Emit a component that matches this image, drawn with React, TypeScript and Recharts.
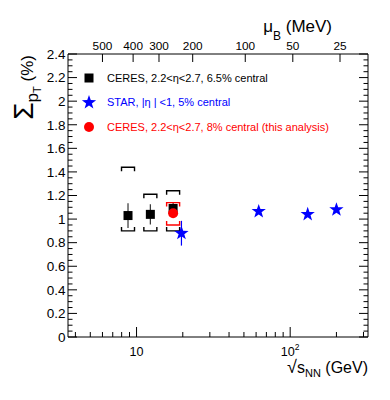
import { ComposedChart, Scatter, XAxis, YAxis, ErrorBar } from 'recharts';

const FONT = "'Liberation Sans', Arial, Helvetica, sans-serif";

// CERES, 2.2<eta<2.7, 6.5% central (black squares)
const ceresSqrtS = [8.8, 12.3, 17.3];
const ceresSigma = [1.03, 1.04, 1.09];
const ceresStat = [0.105, 0.085, 0.05];
const ceresSysHigh = [1.44, 1.21, 1.24];
const ceresSysLow = [0.9, 0.9, 0.9];

// STAR, |eta|<1, 5% central (blue stars)
const starSqrtS = [19.6, 62.4, 130, 200];
const starSigma = [0.88, 1.065, 1.04, 1.08];
const starStat = [0.105, 0.01, 0.01, 0.01];

// CERES, 8% central (this analysis, red circle)
const thisSqrtS = [17.3];
const thisSigma = [1.05];
const thisStat = [0.02];
const thisSysHigh = [1.14];
const thisSysLow = [0.95];

// axis ticks
const yMajorTicks = [0, 0.2, 0.4, 0.6, 0.8, 1, 1.2, 1.4, 1.6, 1.8, 2, 2.2, 2.4];
const xTicks = [4, 5, 6, 7, 8, 9, 10, 20, 30, 40, 50, 60, 70, 80, 90, 100, 200, 300];
const xLabels = [10, 100];
const muBLabels = [500, 400, 300, 200, 100, 50, 25];
const muBSqrtS = [6.0, 9.5, 14.0, 23.2, 51, 104, 211];

const yTicks: number[] = [];
yMajorTicks.forEach((v, i) => {
  yTicks.push(v);
  if (i < yMajorTicks.length - 1) {
    yTicks.push(v + 0.05, v + 0.1, v + 0.15);
  }
});

const ceresData = ceresSqrtS.map((x, i) => ({ x, y: ceresSigma[i], err: ceresStat[i] }));
const ceresUp = ceresSqrtS.map((x, i) => ({ x, y: ceresSysHigh[i] }));
const ceresLow = ceresSqrtS.map((x, i) => ({ x, y: ceresSysLow[i] }));
const starData = starSqrtS.map((x, i) => ({ x, y: starSigma[i], err: starStat[i] }));
const thisData = thisSqrtS.map((x, i) => ({ x, y: thisSigma[i], err: thisStat[i] }));
const thisUp = thisSqrtS.map((x, i) => ({ x, y: thisSysHigh[i] }));
const thisLow = thisSqrtS.map((x, i) => ({ x, y: thisSysLow[i] }));
// the top (mu_B) axis needs a series to be drawn; this one draws nothing
const muBData = muBSqrtS.map((x) => ({ x, y: 0 }));

const isMajorY = (v: number) => Math.abs(v * 5 - Math.round(v * 5)) < 1e-6;
const fmtY = (v: number) => String(Math.round(v * 10) / 10);

const starPoints = (cx: number, cy: number, R: number) => {
  const r = R * 0.4;
  const pts: string[] = [];
  for (let k = 0; k < 10; k++) {
    const a = -Math.PI / 2 + (k * Math.PI) / 5;
    const rad = k % 2 === 0 ? R : r;
    pts.push(`${cx + rad * Math.cos(a)},${cy + rad * Math.sin(a)}`);
  }
  return pts.join(' ');
};

const Square = (p: any) => <rect x={p.cx - 4.5} y={p.cy - 4.5} width={9} height={9} fill="#000" />;
const Circle = (p: any) => <circle cx={p.cx} cy={p.cy} r={5} fill="#ff0000" />;
const Star = (p: any) => <polygon points={starPoints(p.cx, p.cy, 7.5)} fill="#0000ff" />;
const Nothing = () => <g />;

const bracket = (color: string, up: boolean) => (p: any) => {
  const d = up ? 4 : -4;
  return (
    <path
      d={`M${p.cx - 6.5},${p.cy + d}V${p.cy}H${p.cx + 6.5}V${p.cy + d}`}
      fill="none"
      stroke={color}
      strokeWidth={1.4}
    />
  );
};

const BottomTick = (p: any) => {
  const v = p.payload.value;
  const major = xLabels.includes(v);
  return (
    <g>
      <line x1={p.x} x2={p.x} y1={p.y} y2={p.y - (major ? 10 : 5)} stroke="#000" />
      {major && (
        <text x={p.x} y={p.y + 18.5} textAnchor="middle" fontSize={12.6} fontFamily={FONT} fill="#000">
          10
          {v === 100 && (
            <tspan dy={-6} fontSize={8.5}>
              2
            </tspan>
          )}
        </text>
      )}
    </g>
  );
};

const TopTick = (p: any) => {
  const i = muBSqrtS.indexOf(p.payload.value);
  return (
    <g>
      <line x1={p.x} x2={p.x} y1={p.y} y2={p.y + 8} stroke="#000" />
      <text x={p.x} y={p.y - 4.5} textAnchor="middle" fontSize={11.8} fontFamily={FONT} fill="#000">
        {muBLabels[i]}
      </text>
    </g>
  );
};

const LeftTick = (p: any) => {
  const v = p.payload.value;
  const major = isMajorY(v);
  return (
    <g>
      <line x1={p.x} x2={p.x + (major ? 9 : 4.5)} y1={p.y} y2={p.y} stroke="#000" />
      {major && (
        <text x={p.x - 2.5} y={p.y + 4.8} textAnchor="end" fontSize={13.5} fontFamily={FONT} fill="#000">
          {fmtY(v)}
        </text>
      )}
    </g>
  );
};

const RightTick = (p: any) => {
  const major = isMajorY(p.payload.value);
  return <line x1={p.x} x2={p.x - (major ? 9 : 4.5)} y1={p.y} y2={p.y} stroke="#000" />;
};

export default function App() {
  return (
    <div style={{ position: 'absolute', left: 0, top: 0, width: 390, height: 400, background: '#fff' }}>
      <ComposedChart width={390} height={400} margin={{ top: 24, right: 12, bottom: 33, left: 28 }}>
        <XAxis
          xAxisId="b"
          dataKey="x"
          type="number"
          scale="log"
          domain={[3.58, 321]}
          allowDataOverflow
          ticks={xTicks}
          interval={0}
          height={30}
          tickSize={0}
          tickMargin={0}
          tickLine={false}
          tick={(p: any) => <BottomTick {...p} />}
          axisLine={{ stroke: '#000' }}
        />
        <XAxis
          xAxisId="t"
          dataKey="x"
          orientation="top"
          type="number"
          scale="log"
          domain={[3.58, 321]}
          allowDataOverflow
          ticks={muBSqrtS}
          interval={0}
          height={30}
          tickSize={0}
          tickMargin={0}
          tickLine={false}
          tick={(p: any) => <TopTick {...p} />}
          axisLine={{ stroke: '#000' }}
        />
        <YAxis
          yAxisId="l"
          type="number"
          domain={[0, 2.4]}
          allowDataOverflow
          ticks={yTicks}
          interval={0}
          width={40}
          tickSize={0}
          tickMargin={0}
          tickLine={false}
          tick={(p: any) => <LeftTick {...p} />}
          axisLine={{ stroke: '#000' }}
        />
        <YAxis
          yAxisId="r"
          orientation="right"
          type="number"
          domain={[0, 2.4]}
          allowDataOverflow
          ticks={yTicks}
          interval={0}
          width={10}
          tickSize={0}
          tickMargin={0}
          tickLine={false}
          tick={(p: any) => <RightTick {...p} />}
          axisLine={{ stroke: '#000' }}
        />

        <Scatter xAxisId="t" yAxisId="r" data={muBData} dataKey="y" shape={Nothing} isAnimationActive={false} />

        {/* systematic brackets */}
        <Scatter xAxisId="b" yAxisId="l" data={ceresUp} dataKey="y" shape={bracket('#000', true)} isAnimationActive={false} />
        <Scatter xAxisId="b" yAxisId="l" data={ceresLow} dataKey="y" shape={bracket('#000', false)} isAnimationActive={false} />
        <Scatter xAxisId="b" yAxisId="l" data={thisUp} dataKey="y" shape={bracket('#ff0000', true)} isAnimationActive={false} />
        <Scatter xAxisId="b" yAxisId="l" data={thisLow} dataKey="y" shape={bracket('#ff0000', false)} isAnimationActive={false} />

        <Scatter xAxisId="b" yAxisId="l" data={ceresData} dataKey="y" shape={Square} isAnimationActive={false}>
          <ErrorBar dataKey="err" direction="y" width={0} stroke="#333" strokeWidth={1.2} />
        </Scatter>
        <Scatter xAxisId="b" yAxisId="l" data={thisData} dataKey="y" shape={Circle} isAnimationActive={false}>
          <ErrorBar dataKey="err" direction="y" width={0} stroke="#ff0000" strokeWidth={1.2} />
        </Scatter>
        <Scatter xAxisId="b" yAxisId="l" data={starData} dataKey="y" shape={Star} isAnimationActive={false}>
          <ErrorBar dataKey="err" direction="y" width={0} stroke="#0000ff" strokeWidth={1.2} />
        </Scatter>

        {/* legend */}
        <g fontFamily={FONT} fontSize={11}>
          <rect x={84.5} y={73.5} width={9} height={9} fill="#000" />
          <text x={107} y={82} fill="#000">CERES, 2.2&lt;η&lt;2.7, 6.5% central</text>
          <polygon points={starPoints(89, 102.5, 7.5)} fill="#0000ff" />
          <text x={107} y={106} fill="#0000ff">STAR, |η | &lt;1, 5% central</text>
          <circle cx={89} cy={127} r={5} fill="#ff0000" />
          <text x={107} y={131} fill="#ff0000">CERES, 2.2&lt;η&lt;2.7, 8% central (this analysis)</text>
        </g>

        {/* axis titles */}
        <text x={33} y={55} transform="rotate(-90 33 55)" textAnchor="end" fontFamily={FONT} fill="#000">
          <tspan fontSize={28}>Σ</tspan>
          <tspan fontSize={17} dy={5}>p</tspan>
          <tspan fontSize={11} dy={3}>T</tspan>
          <tspan fontSize={17} dy={-8}> (%)</tspan>
        </text>
        <text x={332} y={32} textAnchor="end" fontFamily={FONT} fill="#000">
          <tspan fontSize={17}>μ</tspan>
          <tspan fontSize={12} dy={8}>B</tspan>
          <tspan fontSize={17} dy={-8}> (MeV)</tspan>
        </text>
        <text x={368} y={373} textAnchor="end" fontFamily={FONT} fill="#000">
          <tspan fontSize={18}>√</tspan>
          <tspan fontSize={16}>s</tspan>
          <tspan fontSize={11} dy={4}>NN</tspan>
          <tspan fontSize={16} dy={-4}> (GeV)</tspan>
        </text>
      </ComposedChart>
    </div>
  );
}
